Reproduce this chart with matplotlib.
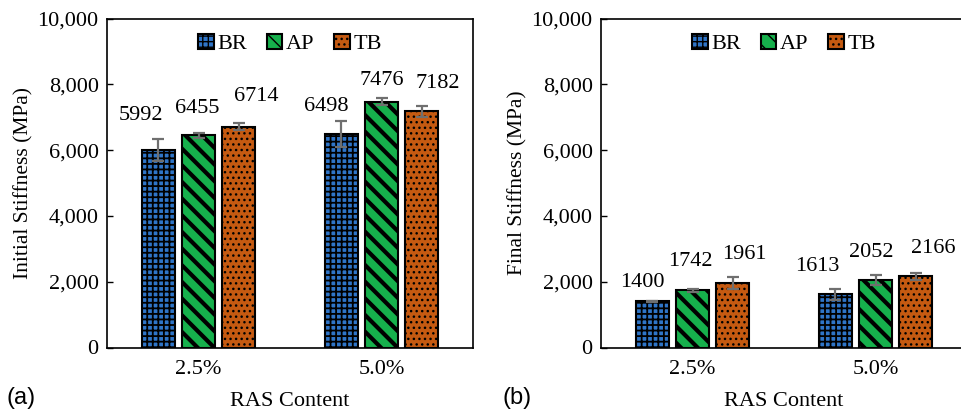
#!/usr/bin/env python3
import matplotlib
import matplotlib.pyplot as plt
import numpy as np
from matplotlib.ticker import FuncFormatter

matplotlib.use("Agg")

plt.rcParams["font.family"] = ["Liberation Serif", "DejaVu Serif"]

# Data
ras_content = ["2.5%", "5.0%"]
series = ["BR", "AP", "TB"]

initial_br = [5992, 6498]
initial_ap = [6455, 7476]
initial_tb = [6714, 7182]
initial_br_err = [335, 395]
initial_ap_err = [75, 100]
initial_tb_err = [100, 170]

final_br = [1400, 1613]
final_ap = [1742, 2052]
final_tb = [1961, 2166]
final_br_err = [25, 160]
final_ap_err = [50, 160]
final_tb_err = [195, 100]

# Styling per series
colors = {"BR": "#2f75c8", "AP": "#16b04c", "TB": "#c55a11"}
hatches = {"BR": "+++", "AP": "\\\\", "TB": "..."}
hatch_lw = {"BR": 1.3, "AP": 3.0, "TB": 1.0}

# Value label offsets in pixels (dx, dy from bar top centre), per panel
left_dx = {"BR": [-17, -15], "AP": [-1, 0], "TB": [17, 16]}
left_dy = {"BR": [35, 27], "AP": [27, 21], "TB": [30, 28]}
right_dx = {"BR": [-10, -18], "AP": [-2, -4], "TB": [12, 17]}
right_dy = {"BR": [19, 28], "AP": [29, 27], "TB": [28, 28]}

PX = 0.72  # points per pixel at dpi=100


def draw_panel(ax, values, errors, dxs, dys, ylabel):
    x = np.arange(len(ras_content))
    width = 0.18
    step = 0.22
    for i, name in enumerate(series):
        pos = x + (i - 1) * step
        bars = ax.bar(
            pos,
            values[name],
            width,
            color=colors[name],
            edgecolor="black",
            linewidth=1.5,
            hatch=hatches[name],
            label=name,
            zorder=2,
        )
        for b in bars:
            if hasattr(b, "set_hatch_linewidth"):
                b.set_hatch_linewidth(hatch_lw[name])
        ax.errorbar(
            pos,
            values[name],
            yerr=errors[name],
            fmt="none",
            ecolor="#6f6f6f",
            elinewidth=1.6,
            capsize=4.5,
            capthick=1.6,
            zorder=3,
        )
        for j, v in enumerate(values[name]):
            ax.annotate(
                f"{v}",
                xy=(pos[j], v),
                xytext=(dxs[name][j] * PX, dys[name][j] * PX),
                textcoords="offset points",
                ha="center",
                va="center",
                fontsize=16,
            )

    ax.set_xlim(-0.5, 1.5)
    ax.set_ylim(0, 10000)
    ax.set_yticks(np.arange(0, 10001, 2000))
    ax.yaxis.set_major_formatter(FuncFormatter(lambda v, p: f"{int(v):,}"))
    ax.set_xticks(x)
    ax.set_xticklabels(ras_content)
    ax.tick_params(axis="x", length=0, labelsize=16, pad=9)
    ax.tick_params(axis="y", direction="in", length=4, width=1, labelsize=16, pad=6)
    ax.set_xlabel("RAS Content", fontsize=16, labelpad=9)
    ax.set_ylabel(ylabel, fontsize=15.5, labelpad=3)
    for s in ax.spines.values():
        s.set_linewidth(1.2)
        s.set_color("black")

    ax.legend(
        loc="upper center",
        bbox_to_anchor=(0.5, 1.015),
        ncol=3,
        frameon=False,
        fontsize=16,
        handlelength=0.7,
        handleheight=0.7,
        handletextpad=0.15,
        columnspacing=0.9,
    )


fig = plt.figure(figsize=(9.61, 4.13), dpi=100)
ax1 = fig.add_axes([107 / 961, 65.5 / 413, 366 / 961, 329 / 413])
ax2 = fig.add_axes([601 / 961, 65.5 / 413, 366 / 961, 329 / 413])

draw_panel(
    ax1,
    {"BR": initial_br, "AP": initial_ap, "TB": initial_tb},
    {"BR": initial_br_err, "AP": initial_ap_err, "TB": initial_tb_err},
    left_dx,
    left_dy,
    "Initial Stiffness (MPa)",
)
draw_panel(
    ax2,
    {"BR": final_br, "AP": final_ap, "TB": final_tb},
    {"BR": final_br_err, "AP": final_ap_err, "TB": final_tb_err},
    right_dx,
    right_dy,
    "Final Stiffness (MPa)",
)

fig.text(7 / 961, 1 - 398 / 413, "(a)", va="center", ha="left",
         fontsize=17, family=["Liberation Sans", "DejaVu Sans"])
fig.text(502 / 961, 1 - 398 / 413, "(b)", va="center", ha="left",
         fontsize=17, family=["Liberation Sans", "DejaVu Sans"])

plt.savefig("out.png", dpi=100)
plt.close()
